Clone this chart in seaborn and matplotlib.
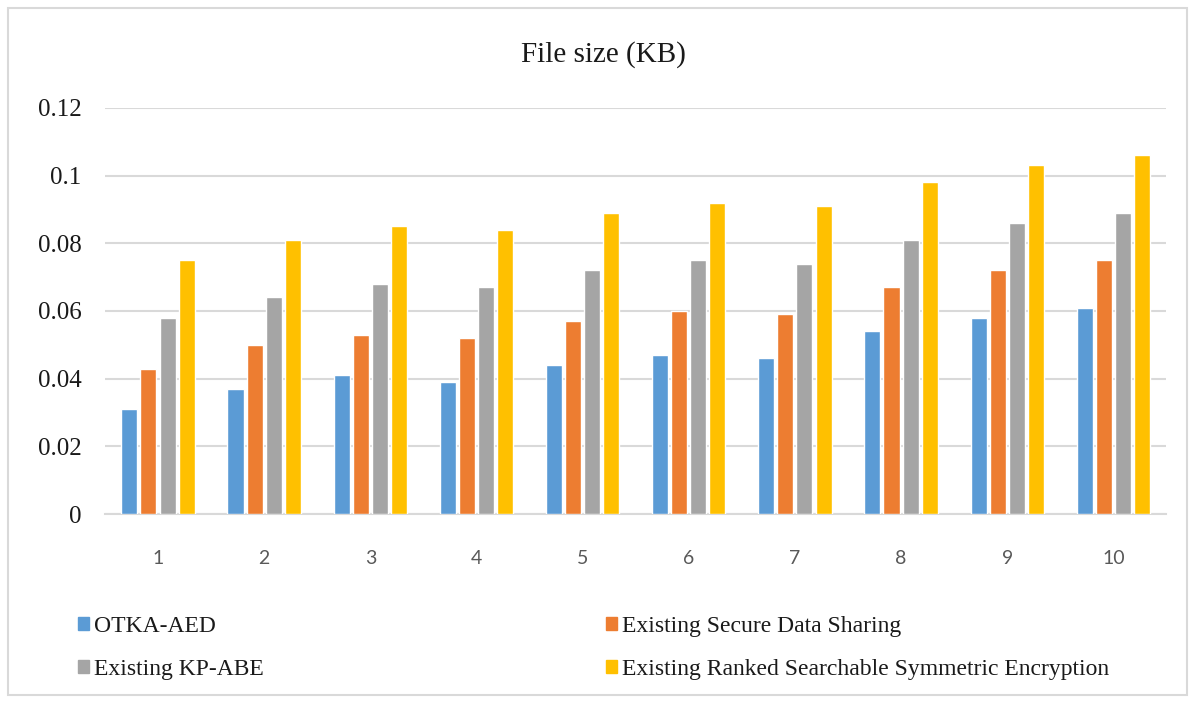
import matplotlib.pyplot as plt
import matplotlib.patches as mpatches
import pandas as pd
import seaborn as sns

sns.set_theme(style="white")
plt.rcParams['font.family'] = ['Liberation Serif', 'DejaVu Serif']

files = ['1', '2', '3', '4', '5', '6', '7', '8', '9', '10']
series = ['OTKA-AED', 'Existing Secure Data Sharing', 'Existing KP-ABE',
          'Existing Ranked Searchable Symmetric Encryption']
otka = [0.031, 0.037, 0.041, 0.039, 0.044, 0.047, 0.046, 0.054, 0.058, 0.061]
sds = [0.043, 0.050, 0.053, 0.052, 0.057, 0.060, 0.059, 0.067, 0.072, 0.075]
kpabe = [0.058, 0.064, 0.068, 0.067, 0.072, 0.075, 0.074, 0.081, 0.086, 0.089]
rsse = [0.075, 0.081, 0.085, 0.084, 0.089, 0.092, 0.091, 0.098, 0.103, 0.106]
colors = ['#5B9BD5', '#ED7D31', '#A5A5A5', '#FFC000']

rows = []
for name, vals in zip(series, [otka, sds, kpabe, rsse]):
    for f, v in zip(files, vals):
        rows.append({'file': f, 'series': name, 'size': v})
df = pd.DataFrame(rows)

fig = plt.figure(figsize=(11.94, 7.02), dpi=100)
ax = fig.add_axes([0.0879, 0.2678, 0.8890, 0.5784])
sns.barplot(data=df, x='file', y='size', hue='series', hue_order=series,
            palette=colors, width=0.72, gap=0.16, saturation=1,
            errorbar=None, ax=ax, legend=False, zorder=3)

ax.set_ylim(0, 0.12)
ax.set_xlim(-0.5, 9.5)
ax.set_yticks([0, 0.02, 0.04, 0.06, 0.08, 0.1, 0.12])
ax.set_yticklabels(['0', '0.02', '0.04', '0.06', '0.08', '0.1', '0.12'])
ax.yaxis.grid(True, color='#D9D9D9', linewidth=1.5, zorder=0)
ax.set_axisbelow(True)
for s in ['top', 'right', 'left']:
    ax.spines[s].set_visible(False)
ax.spines['bottom'].set_color('#D9D9D9')
ax.spines['bottom'].set_linewidth(1.5)
ax.tick_params(axis='both', length=0)
ax.tick_params(axis='y', labelsize=18, colors='#1a1a1a', pad=17)
ax.tick_params(axis='x', labelsize=14, colors='#595959', pad=26)
for lab in ax.get_xticklabels():
    lab.set_family(['Lato', 'DejaVu Sans'])
ax.set_xlabel('')
ax.set_ylabel('')
fig.text(603 / 1194, 1 - 55 / 702, 'File size (KB)', ha='center', va='center',
         fontsize=21, color='#1a1a1a')

# two legend columns, placed like the reference
leg_kw = dict(loc='center left', frameon=False, fontsize=17,
              handlelength=0.47, handleheight=0.47, handletextpad=0.2,
              labelspacing=0.95, borderpad=0, borderaxespad=0,
              labelcolor='#1a1a1a')
fig.legend([mpatches.Patch(color=colors[0]), mpatches.Patch(color=colors[2])],
           [series[0], series[2]],
           bbox_to_anchor=(78 / 1194, 1 - 648 / 702), **leg_kw)
fig.legend([mpatches.Patch(color=colors[1]), mpatches.Patch(color=colors[3])],
           [series[1], series[3]],
           bbox_to_anchor=(606 / 1194, 1 - 648 / 702), **leg_kw)

fig.patches.append(mpatches.Rectangle((0.007, 0.01), 0.987, 0.978,
                                      transform=fig.transFigure, fill=False,
                                      edgecolor='#D9D9D9', linewidth=1.5))

plt.savefig('out.png', dpi=100)
